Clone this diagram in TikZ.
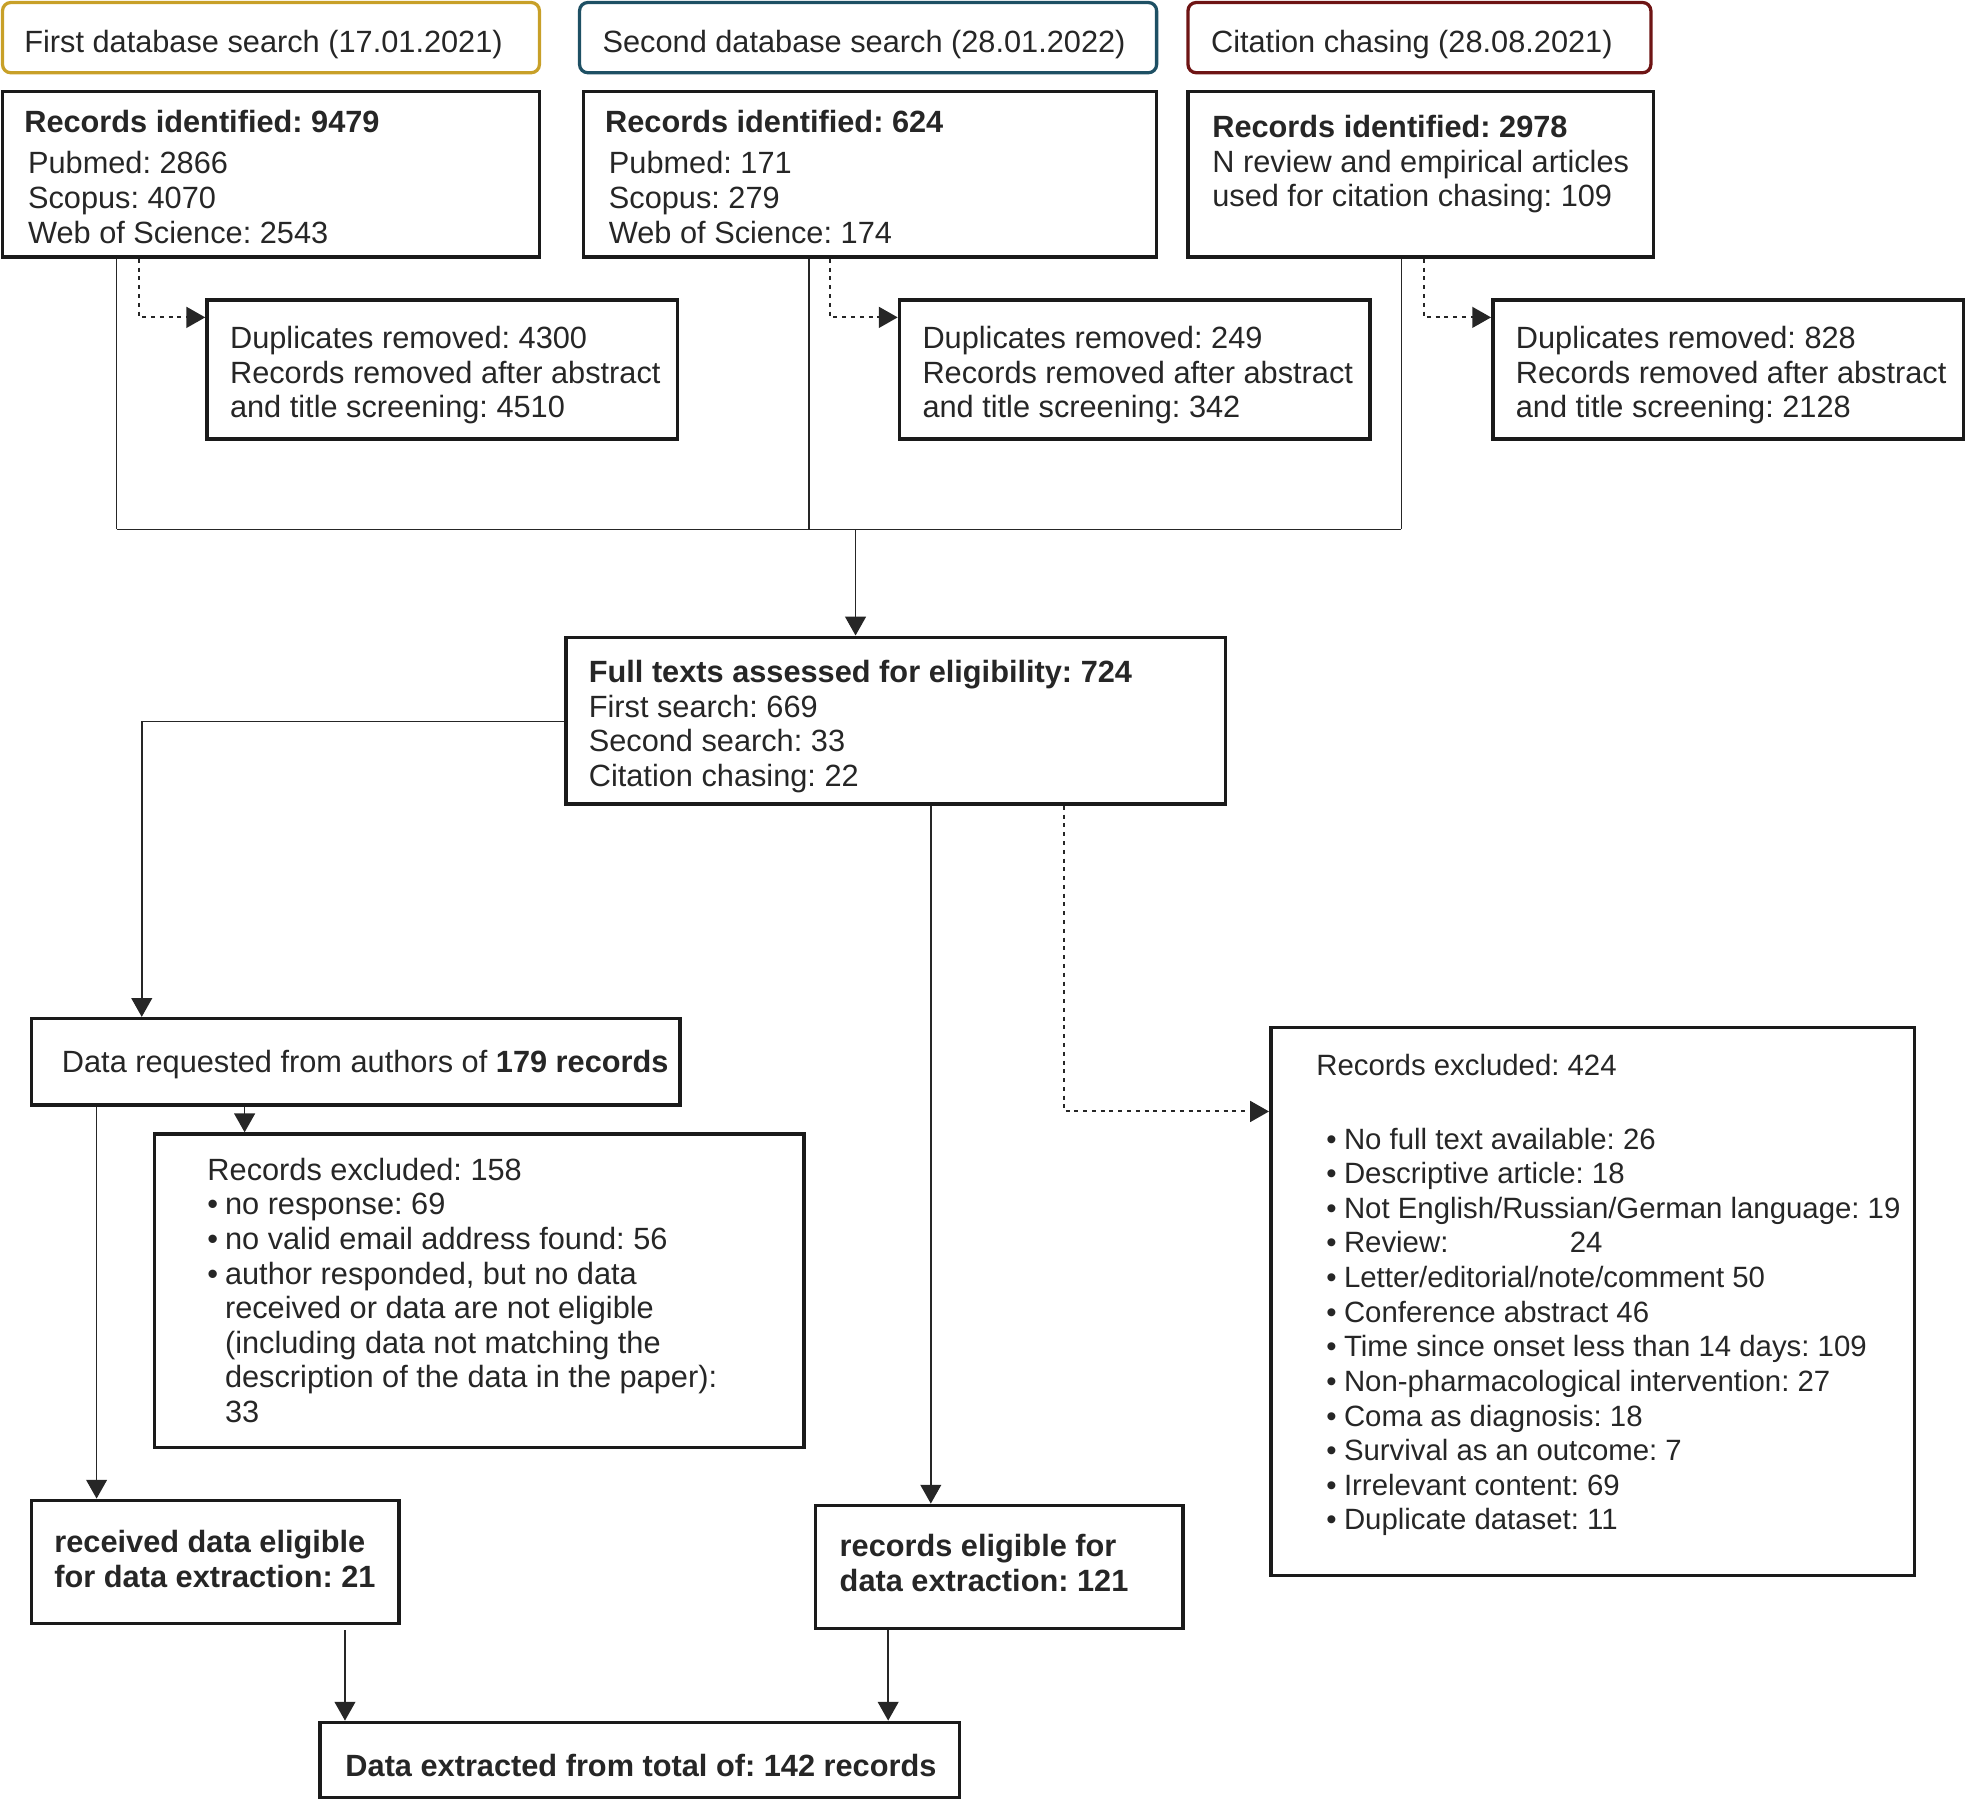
\documentclass[tikz,border=0pt]{standalone}
\usepackage{fontspec}
\setmainfont{Liberation Sans}
\usetikzlibrary{arrows.meta,fit}
\definecolor{gold}{HTML}{C8A028}
\definecolor{tealb}{HTML}{1E5064}
\definecolor{wine}{HTML}{6E1414}
\definecolor{ink}{HTML}{262626}
\definecolor{edge}{HTML}{1A1A1A}
\newcommand{\itembul}{\makebox[7bp][l]{•}}
\newcommand{\ind}{\hspace*{7bp}}
\begin{document}
\frenchspacing
\begin{tikzpicture}[x=0.5bp,y=-0.5bp,
  every node/.style={font=\fontsize{12.25bp}{13.8bp}\selectfont, text=ink},
  box/.style={draw=edge, line width=1.4bp, inner sep=0pt},
  hdr/.style={draw=#1, line width=1.3bp, rounded corners=3.3bp, inner sep=0pt},
  txt/.style={anchor=north west, yshift=8.7bp, align=left, inner sep=0pt, execute at begin node=\strut},
  conn/.style={draw=ink, line width=0.6bp},
  dots/.style={draw=ink, line width=0.8bp, dash pattern=on 1.6bp off 1.9bp},
  arr/.style={-{Triangle[length=7.5bp,width=8.3bp]}}]
\useasboundingbox (0,0) rectangle (1568,1435);

% header boxes
\node[hdr=gold, fit={(2,2)(430,58)}] (h1) {};
\node[hdr=tealb, fit={(462,2)(922,58)}] (h2) {};
\node[hdr=wine, fit={(947,2)(1316,58)}] (h3) {};
\node[txt] (h1t) at (19,39.5) {First database search (17.01.2021)};
\node[txt] (h2t) at (480,39.5) {Second database search (28.01.2022)};
\node[txt] (h3t) at (965,39.5) {Citation chasing (28.08.2021)};

% record boxes
\node[box, fit={(2,73)(430,205)}] (r1) {};
\node[box, fit={(465,73)(922,205)}] (r2) {};
\node[box, fit={(947,73)(1318,205)}] (r3) {};
\node[txt] (r1t) at (19,105) {\textbf{Records identified: 9479}\\[2.6bp]
  \hspace*{1.5bp}Pubmed: 2866\\ \hspace*{1.5bp}Scopus: 4070\\ \hspace*{1.5bp}Web of Science: 2543};
\node[txt] (r2t) at (482,105) {\textbf{Records identified: 624}\\[2.6bp]
  \hspace*{1.5bp}Pubmed: 171\\ \hspace*{1.5bp}Scopus: 279\\ \hspace*{1.5bp}Web of Science: 174};
\node[txt] (r3t) at (966,109) {\textbf{Records identified: 2978}\\
  N review and empirical articles\\ used for citation chasing: 109};

% duplicates boxes
\node[box, fit={(165,239)(540,350)}] (d1) {};
\node[box, fit={(717,239)(1092,350)}] (d2) {};
\node[box, fit={(1190,239)(1565,350)}] (d3) {};
\node[txt] (d1t) at (183,277) {Duplicates removed: 4300\\ Records removed after abstract\\ and title screening: 4510};
\node[txt] (d2t) at (735,277) {Duplicates removed: 249\\ Records removed after abstract\\ and title screening: 342};
\node[txt] (d3t) at (1208,277) {Duplicates removed: 828\\ Records removed after abstract\\ and title screening: 2128};

% full texts
\node[box, fit={(451,508)(977,641)}] (f) {};
\node[txt] (ft) at (469,543.5) {\textbf{Full texts assessed for eligibility: 724}\\ First search: 669\\ Second search: 33\\ Citation chasing: 22};

% data requested
\node[box, fit={(25,812)(542,881)}] (dr) {};
\node[txt] (drt) at (49,852.5) {Data requested from authors of \textbf{179 records}};

% excluded 158
\node[box, fit={(123,904)(641,1154)}] (e158) {};
\node[txt] (e158t) at (165,940) {Records excluded: 158\\
  \itembul no response: 69\\
  \itembul no valid email address found: 56\\
  \itembul author responded, but no data\\
  \ind received or data are not eligible\\
  \ind (including data not matching the\\
  \ind description of the data in the paper):\\
  \ind 33};

% excluded 424
\node[box, fit={(1013,819)(1526,1256)}] (e424) {};
\node[txt, font=\fontsize{11.7bp}{13.8bp}\selectfont] (e424t) at (1049,857) {Records excluded: 424\\[15.7bp]
  \hspace*{4bp}\itembul No full text available: 26\\
  \hspace*{4bp}\itembul Descriptive article: 18\\
  \hspace*{4bp}\itembul Not English/Russian/German language: 19\\
  \hspace*{4bp}\itembul \makebox[90bp][l]{Review:}24\\
  \hspace*{4bp}\itembul Letter/editorial/note/comment 50\\
  \hspace*{4bp}\itembul Conference abstract 46\\
  \hspace*{4bp}\itembul Time since onset less than 14 days: 109\\
  \hspace*{4bp}\itembul Non-pharmacological intervention: 27\\
  \hspace*{4bp}\itembul Coma as diagnosis: 18\\
  \hspace*{4bp}\itembul Survival as an outcome: 7\\
  \hspace*{4bp}\itembul Irrelevant content: 69\\
  \hspace*{4bp}\itembul Duplicate dataset: 11};

% eligible boxes
\node[box, fit={(25,1196)(318,1294)}] (rec) {};
\node[txt, font=\fontsize{12.25bp}{13.8bp}\selectfont\bfseries] (rect) at (43,1237) {received data eligible\\ for data extraction: 21};
\node[box, fit={(650,1200)(943,1298)}] (el) {};
\node[txt, font=\fontsize{12.25bp}{13.8bp}\selectfont\bfseries] (elt) at (669,1240.3) {records eligible for\\ data extraction: 121};

% final
\node[box, fit={(255,1373)(765,1433)}] (fin) {};
\node[txt, font=\fontsize{12.25bp}{13.8bp}\selectfont\bfseries] (fint) at (275,1413.5) {Data extracted from total of: 142 records};

% junction coordinates
\coordinate (j1) at (93,422);
\coordinate (j2) at (645,422);
\coordinate (j3) at (1117,422);
\coordinate (jm) at (682,422);
\coordinate (c1) at (111,253);
\coordinate (c2) at (662,253);
\coordinate (c3) at (1135,253);
\coordinate (c4) at (113,575);
\coordinate (c5) at (742,700);
\coordinate (c6) at (848,886);
\coordinate (c7) at (77,1000);
\coordinate (c8) at (195,890);
\coordinate (c9) at (275,1330);
\coordinate (c10) at (708,1330);

% solid connectors
\draw[conn] (r1.south -| j1) -- (j1);
\draw[conn] (r2.south -| j2) -- (j2);
\draw[conn] (r3.south -| j3) -- (j3);
\draw[conn] (j1) -- (j3);
\draw[conn, arr] (jm) -- (f.north -| jm);
\draw[conn, arr] (f.west |- c4) -- (c4) -- (dr.north -| c4);
\draw[conn, arr] (f.south -| c5) -- (el.north -| c5);
\draw[conn, arr] (dr.south -| c7) -- (rec.north -| c7);
\draw[conn, arr] (dr.south -| c8) -- (e158.north -| c8);
\draw[conn, arr] ([yshift=-2bp]rec.south -| c9) -- (fin.north -| c9);
\draw[conn, arr] (el.south -| c10) -- (fin.north -| c10);

% dotted connectors
\draw[dots, arr] (r1.south -| c1) -- (c1) -- (d1.west |- c1);
\draw[dots, arr] (r2.south -| c2) -- (c2) -- (d2.west |- c2);
\draw[dots, arr] (r3.south -| c3) -- (c3) -- (d3.west |- c3);
\draw[dots, arr] (f.south -| c6) -- (c6) -- (e424.west |- c6);
\end{tikzpicture}
\end{document}
